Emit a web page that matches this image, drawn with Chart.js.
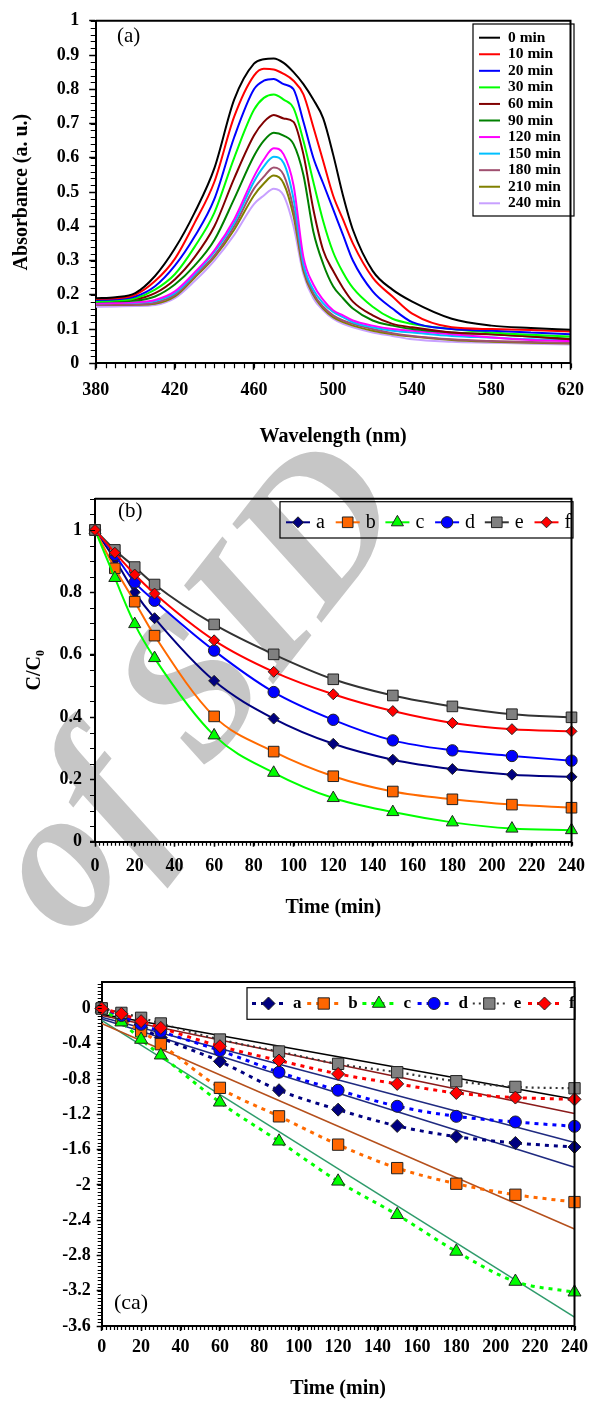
<!DOCTYPE html>
<html>
<head>
<meta charset="utf-8">
<script src="https://cdn.jsdelivr.net/npm/chart.js@4.4.1/dist/chart.umd.min.js"></script>
<style>
  html, body { margin: 0; padding: 0; background: #fff; }
  #page { position: relative; width: 594px; height: 1401px; overflow: hidden; }
  #page canvas { position: absolute; left: 0; }
  #watermark {
    position: absolute; left: -115px; top: 570px; width: 600px; height: 220px;
    line-height: 220px; text-align: center; white-space: nowrap;
    font: italic bold 200px "Liberation Serif", serif; color: #c6c6c6;
    transform: rotate(-52deg);
  }
</style>
</head>
<body>
<div id="page">
  <div id="watermark">of SID</div>
  <canvas id="spectra" width="594" height="460" style="top:0"></canvas>
  <canvas id="ratio" width="594" height="450" style="top:480px"></canvas>
  <canvas id="kinetics" width="594" height="441" style="top:960px"></canvas>
</div>
<script>
// ---- (a) absorbance spectra ----
const wavelengths = [380, 390, 400, 410, 420, 430, 440, 450, 460, 465, 470, 475, 480, 485, 490, 495, 500, 505, 510, 520, 530, 540, 560, 580, 600, 620]
const spectrumLabels = ["0 min", "10 min", "20 min", "30 min", "60 min", "90 min", "120 min", "150 min", "180 min", "210 min", "240 min"]

const abs0   = [0.19, 0.193, 0.205, 0.255, 0.335, 0.44, 0.57, 0.77, 0.875, 0.888, 0.89, 0.877, 0.85, 0.815, 0.77, 0.715, 0.61, 0.49, 0.39, 0.27, 0.215, 0.18, 0.13, 0.11, 0.103, 0.098]
const abs10  = [0.188, 0.19, 0.2, 0.24, 0.305, 0.41, 0.53, 0.72, 0.84, 0.86, 0.858, 0.845, 0.825, 0.785, 0.69, 0.59, 0.49, 0.42, 0.35, 0.25, 0.195, 0.145, 0.105, 0.1, 0.097, 0.093]
const abs20  = [0.185, 0.187, 0.195, 0.225, 0.285, 0.37, 0.48, 0.66, 0.8, 0.825, 0.83, 0.815, 0.8, 0.705, 0.6, 0.525, 0.45, 0.375, 0.3, 0.21, 0.16, 0.12, 0.1, 0.095, 0.09, 0.085]
const abs30  = [0.18, 0.183, 0.19, 0.215, 0.26, 0.34, 0.44, 0.6, 0.74, 0.775, 0.785, 0.77, 0.745, 0.65, 0.53, 0.415, 0.325, 0.265, 0.22, 0.165, 0.13, 0.115, 0.1, 0.09, 0.083, 0.078]
const abs60  = [0.185, 0.186, 0.188, 0.205, 0.245, 0.31, 0.4, 0.54, 0.665, 0.705, 0.725, 0.715, 0.705, 0.61, 0.45, 0.33, 0.27, 0.22, 0.18, 0.14, 0.115, 0.105, 0.09, 0.085, 0.078, 0.07]
const abs90  = [0.18, 0.181, 0.183, 0.195, 0.23, 0.285, 0.36, 0.48, 0.605, 0.65, 0.673, 0.665, 0.64, 0.55, 0.385, 0.29, 0.225, 0.19, 0.16, 0.125, 0.11, 0.1, 0.09, 0.085, 0.078, 0.072]
const abs120 = [0.175, 0.176, 0.178, 0.185, 0.21, 0.265, 0.33, 0.42, 0.545, 0.595, 0.628, 0.61, 0.52, 0.31, 0.23, 0.185, 0.155, 0.14, 0.125, 0.11, 0.1, 0.095, 0.085, 0.075, 0.068, 0.065]
const abs150 = [0.175, 0.176, 0.177, 0.182, 0.205, 0.26, 0.325, 0.41, 0.53, 0.575, 0.603, 0.585, 0.48, 0.29, 0.215, 0.175, 0.15, 0.135, 0.12, 0.105, 0.095, 0.09, 0.08, 0.075, 0.07, 0.068]
const abs180 = [0.17, 0.171, 0.172, 0.177, 0.2, 0.255, 0.315, 0.4, 0.51, 0.545, 0.572, 0.55, 0.45, 0.28, 0.205, 0.165, 0.14, 0.125, 0.115, 0.1, 0.088, 0.08, 0.07, 0.065, 0.062, 0.06]
const abs210 = [0.17, 0.17, 0.171, 0.174, 0.195, 0.25, 0.31, 0.39, 0.49, 0.525, 0.548, 0.525, 0.43, 0.27, 0.2, 0.16, 0.135, 0.12, 0.11, 0.095, 0.085, 0.078, 0.068, 0.063, 0.06, 0.058]
const abs240 = [0.165, 0.166, 0.167, 0.17, 0.19, 0.24, 0.3, 0.375, 0.465, 0.49, 0.51, 0.49, 0.4, 0.26, 0.19, 0.155, 0.13, 0.115, 0.105, 0.09, 0.08, 0.07, 0.063, 0.06, 0.057, 0.055]

// ---- (b) C/C0 and (ca) ln(C/C0) versus time ----
const times = [0, 10, 20, 30, 60, 90, 120, 150, 180, 210, 240]
const seriesNames = ["a", "b", "c", "d", "e", "f"]

const ratioA = [1, 0.905, 0.8, 0.717, 0.516, 0.395, 0.314, 0.263, 0.233, 0.215, 0.208]
const ratioB = [1, 0.877, 0.77, 0.661, 0.402, 0.289, 0.21, 0.161, 0.136, 0.119, 0.109]
const ratioC = [1, 0.846, 0.698, 0.589, 0.341, 0.221, 0.14, 0.095, 0.062, 0.042, 0.037]
const ratioD = [1, 0.92, 0.832, 0.773, 0.613, 0.48, 0.391, 0.325, 0.293, 0.275, 0.26]
const ratioE = [1, 0.936, 0.881, 0.825, 0.697, 0.601, 0.521, 0.469, 0.434, 0.409, 0.399]
const ratioF = [1, 0.927, 0.857, 0.796, 0.646, 0.545, 0.473, 0.419, 0.381, 0.361, 0.354]

const lnA = [0, -0.1, -0.22, -0.33, -0.6, -0.927, -1.147, -1.332, -1.453, -1.525, -1.571]
const lnB = [0, -0.13, -0.257, -0.405, -0.9, -1.223, -1.544, -1.81, -1.987, -2.112, -2.195]
const lnC = [0, -0.155, -0.352, -0.53, -1.064, -1.506, -1.96, -2.339, -2.755, -3.096, -3.217]
const lnD = [0, -0.08, -0.18, -0.26, -0.477, -0.723, -0.927, -1.109, -1.223, -1.287, -1.336]
const lnE = [0, -0.05, -0.106, -0.17, -0.352, -0.488, -0.628, -0.723, -0.825, -0.889, -0.905]
const lnF = [0, -0.06, -0.144, -0.22, -0.428, -0.59, -0.742, -0.855, -0.958, -1.01, -1.03]

// straight fits, read at both ends of the axis
const fitTimes = [0, 240]
const fitA = [-0.12, -1.8]
const fitB = [-0.17, -2.5]
const fitC = [-0.135, -3.5]
const fitD = [-0.1, -1.52]
const fitE = [-0.065, -1.03]
const fitF = [-0.08, -1.19]

// ---- styling ----
const FONT = "'Liberation Serif', 'Times New Roman', serif"
Chart.defaults.font.family = FONT
Chart.defaults.color = "#000"

const spectrumColors = ["#000000", "#ff0000", "#0000ff", "#00ff00", "#800000", "#008000", "#ff00ff", "#00c0ff", "#a05070", "#808000", "#c8a0ff"]

const seriesStyle = [
  { shape: "rectRot",  fill: "#000080", line: "#000080", fit: "#1f2a80" },
  { shape: "rect",     fill: "#ff6600", line: "#ff6a00", fit: "#b5501c" },
  { shape: "triangle", fill: "#00ff00", line: "#00ff00", fit: "#2e9b6b" },
  { shape: "circle",   fill: "#0000ff", line: "#0000ff", fit: "#1f2a80" },
  { shape: "rect",     fill: "#808080", line: "#333333", fit: "#000000" },
  { shape: "rectRot",  fill: "#ff0000", line: "#ff0000", fit: "#8b1a1a" }
]
const radiusB = [5.5, 7.5, 7, 5.7, 7.5, 5.5]
const radiusC = [6.5, 8, 7.5, 6, 8, 6.5]

const xy = (xs, ys) => xs.map((x, i) => ({ x, y: ys[i] }))

function axis(o) {
  return {
    type: "linear",
    min: o.min,
    max: o.max,
    afterFit: s => { if (o.width != null) s.width = o.width; else s.height = o.height },
    border: { display: true, color: "#000", width: 2 },
    grid: { drawOnChartArea: false, drawTicks: true, tickLength: o.tick, tickColor: "#000", tickWidth: 1.5 },
    ticks: {
      stepSize: o.step, autoSkip: false, includeBounds: false, maxRotation: 0,
      padding: o.pad, color: "#000", font: { size: 18, weight: "bold" },
      callback: v => String(Math.round(v * 10) / 10)
    },
    title: o.title
      ? { display: true, text: o.title, color: "#000", font: { size: 20, weight: "bold" }, padding: o.titlePad }
      : { display: false }
  }
}

// short unlabeled ticks between the labeled ones
const minorTicks = {
  id: "minorTicks",
  afterDraw(chart, args, opts) {
    const { ctx } = chart
    ctx.save()
    ctx.strokeStyle = "#000"
    ctx.lineWidth = 1.2
    ;["x", "y"].forEach(id => {
      const cfg = opts[id]
      const scale = chart.scales[id]
      if (!cfg || !scale) return
      const n = Math.floor((scale.max - scale.min) / cfg.step + 1e-6)
      ctx.beginPath()
      for (let i = 0; i <= n; i++) {
        const p = Math.round(scale.getPixelForValue(scale.min + i * cfg.step)) + 0.5
        if (id === "x") { ctx.moveTo(p, scale.top); ctx.lineTo(p, scale.top + cfg.len) }
        else { ctx.moveTo(scale.right, p); ctx.lineTo(scale.right - cfg.len, p) }
      }
      ctx.stroke()
    })
    ctx.restore()
  }
}

// closes the plot box on top and right
const frame = {
  id: "frame",
  afterDraw(chart) {
    const { ctx, chartArea: a } = chart
    ctx.save()
    ctx.strokeStyle = "#000"
    ctx.lineWidth = 2
    ctx.beginPath()
    ctx.moveTo(a.left, a.top)
    ctx.lineTo(a.right, a.top)
    ctx.lineTo(a.right, a.bottom)
    ctx.stroke()
    ctx.restore()
  }
}

function marker(ctx, style, r, x, y) {
  if (Chart.helpers && Chart.helpers.drawPoint) {
    Chart.helpers.drawPoint(ctx, { pointStyle: style, radius: r, borderWidth: 1, rotation: 0 }, x, y)
    return
  }
  ctx.beginPath()
  ctx.arc(x, y, r, 0, Math.PI * 2)
  ctx.fill()
  ctx.stroke()
}

// legend drawn inside the plot, in a framed box
const boxLegend = {
  id: "boxLegend",
  afterDraw(chart, args, o) {
    if (!o.box) return
    const { ctx } = chart
    ctx.save()
    ctx.strokeStyle = "#000"
    ctx.lineWidth = 1.2
    ctx.strokeRect(o.box[0], o.box[1], o.box[2], o.box[3])
    ctx.font = o.font
    ctx.textBaseline = "middle"
    chart.data.datasets.filter(d => !d.isFit).forEach((d, i) => {
      const x = o.x + (o.dx || 0) * i
      const y = o.y + (o.dy || 0) * i
      ctx.setLineDash(d.borderDash || [])
      ctx.strokeStyle = d.borderColor
      ctx.lineWidth = d.borderWidth
      ctx.beginPath()
      ctx.moveTo(x, y)
      ctx.lineTo(x + o.lineLen, y)
      ctx.stroke()
      ctx.setLineDash([])
      if (d.pointRadius) {
        ctx.fillStyle = d.pointBackgroundColor
        ctx.strokeStyle = d.pointBorderColor
        ctx.lineWidth = 1
        marker(ctx, d.pointStyle, d.pointRadius, x + o.lineLen / 2, y)
      }
      ctx.fillStyle = "#000"
      ctx.fillText(d.label, x + o.lineLen + o.gap, y)
    })
    ctx.restore()
  }
}

const panelTag = {
  id: "panelTag",
  afterDraw(chart, args, o) {
    if (!o.text) return
    const { ctx } = chart
    ctx.save()
    ctx.font = o.size + "px " + FONT
    ctx.fillStyle = "#000"
    ctx.textBaseline = "middle"
    ctx.fillText(o.text, o.x, o.y)
    ctx.restore()
  }
}

const basePlugins = [minorTicks, frame, boxLegend, panelTag]
const quiet = { legend: { display: false }, tooltip: { enabled: false } }

// ---- (a) ----
const spectra = [abs0, abs10, abs20, abs30, abs60, abs90, abs120, abs150, abs180, abs210, abs240]

new Chart(document.getElementById("spectra"), {
  type: "line",
  data: {
    datasets: spectra.map((vals, i) => ({
      label: spectrumLabels[i],
      data: xy(wavelengths, vals),
      borderColor: spectrumColors[i],
      borderWidth: 2,
      pointRadius: 0,
      cubicInterpolationMode: "monotone"
    }))
  },
  options: {
    responsive: false, animation: false, events: [],
    layout: { padding: { left: 0, top: 20, right: 17.3, bottom: 0 } },
    scales: {
      x: axis({ min: 380, max: 620, step: 40, height: 96.7, tick: 6.5, pad: 10, title: "Wavelength (nm)", titlePad: { top: 0, bottom: 11 } }),
      y: axis({ min: 0, max: 1, step: 0.1, width: 95.7, tick: 6.5, pad: 10, title: "Absorbance (a. u.)", titlePad: { top: 10, bottom: 0 } })
    },
    plugins: {
      ...quiet,
      minorTicks: { x: { step: 5, len: 5 }, y: { step: 0.02, len: 5 } },
      boxLegend: { box: [473, 24, 101, 192], x: 479, y: 37.7, dy: 16.56, lineLen: 21, gap: 8, font: "bold 15.5px " + FONT },
      panelTag: { text: "(a)", x: 117, y: 36.5, size: 21 }
    }
  },
  plugins: basePlugins
})

// ---- (b) ----
const ratios = [ratioA, ratioB, ratioC, ratioD, ratioE, ratioF]

new Chart(document.getElementById("ratio"), {
  type: "line",
  data: {
    datasets: ratios.map((vals, i) => ({
      label: seriesNames[i],
      data: xy(times, vals),
      borderColor: seriesStyle[i].line,
      borderWidth: 2,
      pointStyle: seriesStyle[i].shape,
      pointRadius: radiusB[i],
      pointBackgroundColor: seriesStyle[i].fill,
      pointBorderColor: "#222",
      pointBorderWidth: 1,
      cubicInterpolationMode: "monotone",
      clip: false,
      order: 6 - i
    }))
  },
  options: {
    responsive: false, animation: false, events: [],
    layout: { padding: { left: 0, top: 14.7, right: 17.3, bottom: 0 } },
    scales: {
      x: axis({ min: 0, max: 240, step: 20, height: 88.3, tick: 5, pad: 9, title: "Time (min)", titlePad: { top: 0, bottom: 10 } }),
      y: axis({ min: 0, max: 1.1, step: 0.2, width: 95, tick: 5, pad: 8, title: "C/C\u2080", titlePad: { top: 23, bottom: 0 } })
    },
    plugins: {
      ...quiet,
      minorTicks: { x: { step: 2, len: 4 }, y: { step: 0.05, len: 5 } },
      boxLegend: { box: [280, 21.7, 293, 36.3], x: 286, y: 42.3, dx: 49.7, lineLen: 24, gap: 6, font: "20px " + FONT },
      panelTag: { text: "(b)", x: 118, y: 31.7, size: 21 }
    }
  },
  plugins: basePlugins
})

// ---- (ca) ----
const logs = [lnA, lnB, lnC, lnD, lnE, lnF]
const fits = [fitA, fitB, fitC, fitD, fitE, fitF]

const logSets = logs.map((vals, i) => ({
  label: seriesNames[i],
  data: xy(times, vals),
  borderColor: seriesStyle[i].line,
  borderWidth: i === 4 ? 2.2 : 3,
  borderDash: i === 4 ? [2, 4] : [4, 5],
  pointStyle: seriesStyle[i].shape,
  pointRadius: radiusC[i],
  pointBackgroundColor: seriesStyle[i].fill,
  pointBorderColor: "#222",
  pointBorderWidth: 1,
  cubicInterpolationMode: "monotone",
  clip: false,
  order: 6 - i
}))

const fitSets = fits.map((vals, i) => ({
  label: seriesNames[i] + " fit",
  isFit: true,
  data: xy(fitTimes, vals),
  borderColor: seriesStyle[i].fit,
  borderWidth: 1.5,
  pointRadius: 0,
  order: 20
}))

new Chart(document.getElementById("kinetics"), {
  type: "line",
  data: { datasets: [...logSets, ...fitSets] },
  options: {
    responsive: false, animation: false, events: [],
    layout: { padding: { left: 0, top: 22, right: 15, bottom: 0 } },
    scales: {
      x: axis({ min: 0, max: 240, step: 20, height: 75, tick: 5, pad: 6, title: "Time (min)", titlePad: { top: 0, bottom: 0 } }),
      y: axis({ min: -3.6, max: 0.3, step: 0.4, width: 101.7, tick: 5, pad: 6 })
    },
    plugins: {
      ...quiet,
      minorTicks: { x: { step: 2, len: 4 }, y: { step: 0.04, len: 4 } },
      boxLegend: { box: [247, 27.7, 328, 31.6], x: 252, y: 43.5, dx: 55.2, lineLen: 33, gap: 8, font: "bold 17px " + FONT },
      panelTag: { text: "(ca)", x: 114, y: 343, size: 22 }
    }
  },
  plugins: basePlugins
})
</script>
</body>
</html>
